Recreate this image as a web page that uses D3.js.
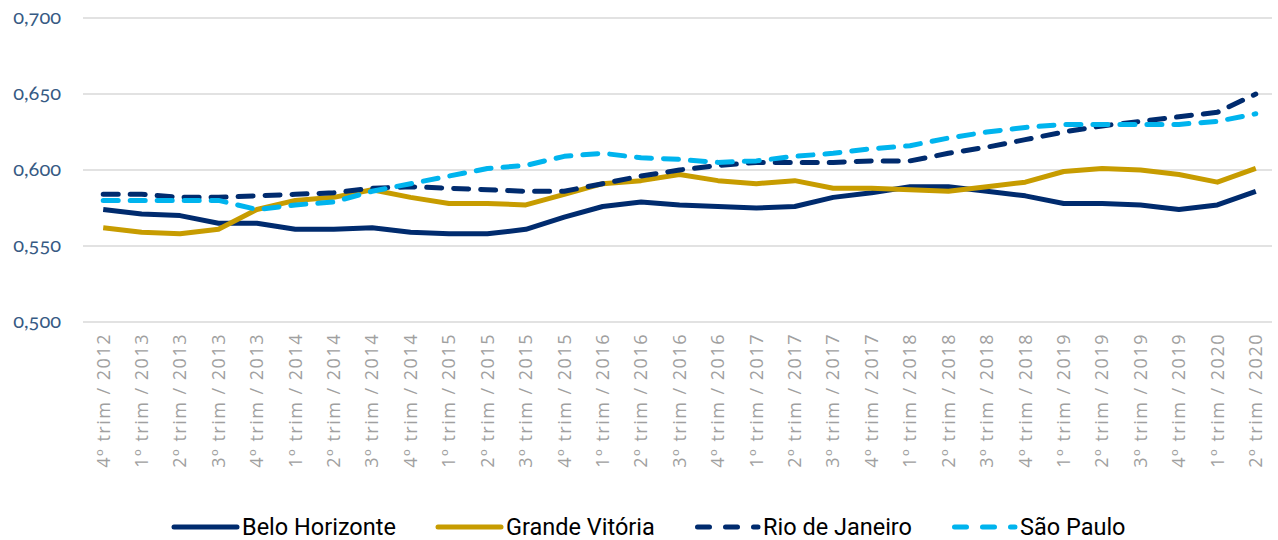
<!DOCTYPE html>
<html>
<head>
<meta charset="utf-8">
<script src="https://cdn.jsdelivr.net/npm/d3@7"></script>
<style>
  body { margin: 0; background: #fff; }
  svg { display: block; }
</style>
</head>
<body>
<div id="container"></div>
<script>
let w = 1278;
let h = 540;

let quarters = ["4º trim / 2012",
  "1º trim / 2013", "2º trim / 2013", "3º trim / 2013", "4º trim / 2013",
  "1º trim / 2014", "2º trim / 2014", "3º trim / 2014", "4º trim / 2014",
  "1º trim / 2015", "2º trim / 2015", "3º trim / 2015", "4º trim / 2015",
  "1º trim / 2016", "2º trim / 2016", "3º trim / 2016", "4º trim / 2016",
  "1º trim / 2017", "2º trim / 2017", "3º trim / 2017", "4º trim / 2017",
  "1º trim / 2018", "2º trim / 2018", "3º trim / 2018", "4º trim / 2018",
  "1º trim / 2019", "2º trim / 2019", "3º trim / 2019", "4º trim / 2019",
  "1º trim / 2020", "2º trim / 2020"];

let beloHorizonte = [0.574, 0.571, 0.570, 0.565, 0.565, 0.561, 0.561, 0.562, 0.559, 0.558, 0.558,
  0.561, 0.569, 0.576, 0.579, 0.577, 0.576, 0.575, 0.576, 0.582, 0.585, 0.589, 0.589,
  0.586, 0.583, 0.578, 0.578, 0.577, 0.574, 0.577, 0.586];

let grandeVitoria = [0.562, 0.559, 0.558, 0.561, 0.574, 0.580, 0.582, 0.587, 0.582, 0.578, 0.578,
  0.577, 0.584, 0.591, 0.593, 0.597, 0.593, 0.591, 0.593, 0.588, 0.588, 0.587, 0.586,
  0.589, 0.592, 0.599, 0.601, 0.600, 0.597, 0.592, 0.601];

let rioDeJaneiro = [0.584, 0.584, 0.582, 0.582, 0.583, 0.584, 0.585, 0.588, 0.589, 0.588, 0.587,
  0.586, 0.586, 0.591, 0.596, 0.600, 0.603, 0.605, 0.605, 0.605, 0.606, 0.606, 0.611,
  0.615, 0.620, 0.625, 0.629, 0.632, 0.635, 0.638, 0.650];

let saoPaulo = [0.580, 0.580, 0.580, 0.580, 0.574, 0.577, 0.579, 0.586, 0.591, 0.596, 0.601,
  0.603, 0.609, 0.611, 0.608, 0.607, 0.605, 0.606, 0.609, 0.611, 0.614, 0.616, 0.621,
  0.625, 0.628, 0.630, 0.630, 0.630, 0.630, 0.632, 0.637];

let yTicks = [0.5, 0.55, 0.6, 0.65, 0.7];

let series = [
  { name: "Belo Horizonte", values: beloHorizonte, color: "#002b6e", dash: null },
  { name: "Grande Vitória", values: grandeVitoria, color: "#c79c00", dash: null },
  { name: "Rio de Janeiro", values: rioDeJaneiro, color: "#002b6e", dash: "15,12" },
  { name: "São Paulo", values: saoPaulo, color: "#00b4ee", dash: "15,12" }
];

let plotLeft = 84, plotRight = 1275, plotTop = 18, plotBottom = 322;

let viz = d3.select("#container")
  .append("svg")
  .attr("width", w)
  .attr("height", h);

let x = d3.scaleBand()
  .domain(quarters)
  .range([plotLeft, plotRight]);

let y = d3.scaleLinear()
  .domain([0.5, 0.7])
  .range([plotBottom, plotTop]);

// grid
viz.append("g")
  .selectAll("line")
  .data(yTicks).enter()
  .append("line")
  .attr("x1", plotLeft - 1)
  .attr("x2", 1272)
  .attr("y1", d => y(d))
  .attr("y2", d => y(d))
  .attr("stroke", "#d9d9d9")
  .attr("stroke-width", 1.3);

// y axis labels
let fmt = d3.format(".3f");
viz.append("g")
  .selectAll("text")
  .data(yTicks).enter()
  .append("text")
  .attr("x", 61)
  .attr("y", d => y(d))
  .attr("dy", "0.3em")
  .attr("text-anchor", "end")
  .attr("fill", "#365a84")
  .style("font-family", "Lato, sans-serif")
  .style("font-size", "20px")
  .style("font-variant-numeric", "oldstyle-nums")
  .text(d => fmt(d).replace(".", ","));

// x axis labels
let xAxis = viz.append("g")
  .attr("transform", `translate(0,${plotBottom})`)
  .call(d3.axisBottom(x).tickSize(0).tickPadding(0));
xAxis.select(".domain").remove();
xAxis.selectAll("text")
  .attr("transform", "rotate(-90)")
  .attr("x", -11)
  .attr("y", 0)
  .attr("dy", "0.35em")
  .attr("text-anchor", "end")
  .attr("fill", "#a0a0a0")
  .style("font-family", "'Open Sans', sans-serif")
  .style("font-size", "18px")
  .style("letter-spacing", "1.5px");

// lines
let line = d3.line()
  .x((d, i) => x(quarters[i]) + x.bandwidth() / 2)
  .y(d => y(d))
  .curve(d3.curveLinear);

viz.append("g")
  .selectAll("path")
  .data(series).enter()
  .append("path")
  .attr("d", d => line(d.values))
  .attr("fill", "none")
  .attr("stroke", d => d.color)
  .attr("stroke-width", 5)
  .attr("stroke-linejoin", "round")
  .attr("stroke-linecap", d => d.dash ? "round" : "butt")
  .attr("stroke-dasharray", d => d.dash);

// legend
let legendX = [174, 438, 695, 952];
let legend = viz.append("g")
  .selectAll("g")
  .data(series).enter()
  .append("g")
  .attr("transform", (d, i) => `translate(${legendX[i]},527)`);

legend.append("line")
  .attr("x1", d => d.dash ? 2.5 : 0)
  .attr("x2", 63)
  .attr("stroke", d => d.color)
  .attr("stroke-width", 5)
  .attr("stroke-linecap", "round")
  .attr("stroke-dasharray", d => d.dash ? "12,16" : null);

legend.append("text")
  .attr("x", 68)
  .attr("dy", "0.36em")
  .attr("fill", "#000")
  .style("font-family", "Roboto, sans-serif")
  .style("font-weight", "400")
  .style("font-size", "23.5px")
  .text(d => d.name);
</script>
</body>
</html>
